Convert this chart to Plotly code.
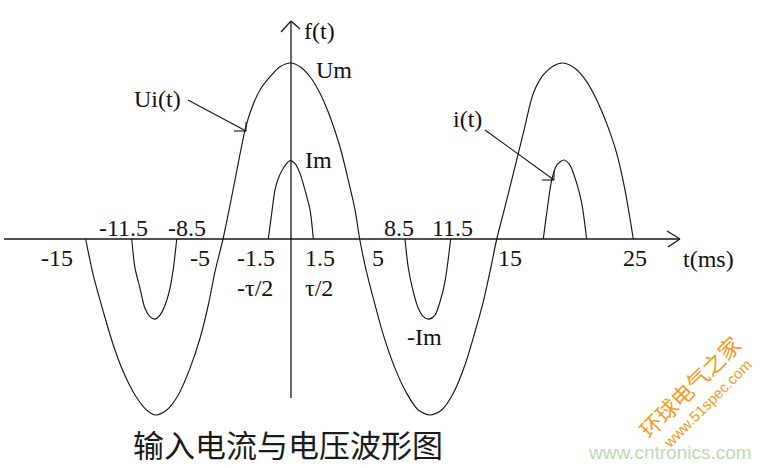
import plotly.graph_objects as go

# ---- data (t in ms, f in units of Um) ----
ui_t = [-15.1, -14.54, -13.80, -13.07, -12.33, -11.47, -10.61, -9.93, -9.14, -8.29, -7.43, -6.69, -6.08, -5.59,
        -5.0, -4.36, -3.88, -3.38, -2.89, -2.28, -1.54, -0.81, 0.0, 0.66, 1.40, 2.13, 2.87, 3.60, 4.21, 4.71,
        5.05, 5.44, 6.05, 6.79, 7.65, 8.51, 9.36, 10.22, 11.08, 11.93, 12.79, 13.53, 14.14, 14.63,
        15.13, 15.74, 16.35, 17.08, 17.82, 18.55, 19.29, 20.0, 20.88, 21.74, 22.48, 23.21, 23.95, 24.56, 25.17]
ui_f = [0.0, -0.205, -0.413, -0.602, -0.754, -0.886, -0.972, -1.0, -0.972, -0.886, -0.735, -0.564, -0.375, -0.186,
        0.0, 0.240, 0.430, 0.619, 0.743, 0.847, 0.922, 0.979, 1.0, 0.979, 0.922, 0.828, 0.695, 0.524, 0.335, 0.165,
        0.0, -0.148, -0.337, -0.545, -0.735, -0.877, -0.972, -1.0, -0.972, -0.877, -0.716, -0.527, -0.356, -0.186,
        0.0, 0.184, 0.373, 0.601, 0.828, 0.932, 0.983, 1.0, 0.970, 0.894, 0.790, 0.657, 0.487, 0.278, 0.0]

i_left_t = [-11.71, -11.47, -11.10, -10.74, -10.37, -10.0, -9.63, -9.26, -8.90, -8.65, -8.40]
i_left_f = [0.0, -0.166, -0.280, -0.394, -0.441, -0.455, -0.432, -0.375, -0.280, -0.166, 0.0]
i_mid_t = [-1.67, -1.42, -1.18, -0.93, -0.57, -0.07, 0.29, 0.66, 1.03, 1.40, 1.64]
i_mid_f = [0.0, 0.146, 0.278, 0.345, 0.402, 0.445, 0.430, 0.373, 0.278, 0.165, 0.0]
i_right_t = [8.38, 8.63, 8.99, 9.36, 9.73, 10.15, 10.59, 10.96, 11.32, 11.57, 11.74]
i_right_f = [0.0, -0.166, -0.299, -0.394, -0.441, -0.455, -0.432, -0.356, -0.243, -0.110, 0.0]
i_far_t = [18.55, 18.80, 19.17, 19.54, 20.07, 20.51, 21.01, 21.38, 21.74]
i_far_f = [0.0, 0.146, 0.335, 0.420, 0.449, 0.420, 0.316, 0.203, 0.0]

tick_labels_above = ["-11.5", "-8.5", "8.5", "11.5"]
tick_labels_below = ["-15", "-5", "-1.5", "1.5", "5", "15", "25"]
tau_labels = ["-τ/2", "τ/2"]

W, H = 772, 468
X0PX, Y0PX, SX, SY = 291, 239, 13.6, 176


def px(x):
    return x / W


def py(y):
    return 1 - y / H


LINE = dict(color="#161616", width=1.15)
fig = go.Figure()
for tt, ff in [(ui_t, ui_f), (i_left_t, i_left_f), (i_mid_t, i_mid_f), (i_right_t, i_right_f), (i_far_t, i_far_f)]:
    fig.add_trace(go.Scatter(x=tt, y=ff, mode="lines", line=dict(shape="spline", smoothing=0.8, **LINE),
                             hoverinfo="skip", showlegend=False))

shapes = []
def seg(x0, y0, x1, y1, color="#161616", w=1.3):
    shapes.append(dict(type="line", xref="paper", yref="paper", x0=px(x0), y0=py(y0), x1=px(x1), y1=py(y1),
                       line=dict(color=color, width=w)))

# axes
seg(4, 239, 680, 239)
seg(667, 231, 680, 239)
seg(668, 247, 680, 239)
seg(291, 398, 291, 21)
seg(281, 32, 291, 21)
seg(291, 21, 300, 29)
# pointer arrows
seg(188, 100, 246, 131, w=1.1)
seg(234, 131, 246, 131, w=1.1)
seg(246, 122, 246, 131, w=1.1)
seg(485, 130, 554, 180, w=1.1)
seg(542, 180, 554, 180, w=1.1)
seg(554, 171, 554, 180, w=1.1)

annotations = []
SERIF = "Liberation Serif, Times New Roman, serif"
def txt(s, x, y, size=24, font=SERIF, color="#111", angle=0):
    annotations.append(dict(text=s, xref="paper", yref="paper", x=px(x), y=py(y), xanchor="center",
                            yanchor="middle", showarrow=False, textangle=angle,
                            font=dict(family=font, size=size, color=color)))

above_pos = [(124, 228), (187, 228), (399, 228), (452, 228)]
for s, (x, y) in zip(tick_labels_above, above_pos):
    txt(s, x, y)
below_pos = [(57, 258), (200, 258), (256, 258), (320, 258), (378, 258), (510, 258), (635, 258)]
for s, (x, y) in zip(tick_labels_below, below_pos):
    txt(s, x, y)
for s, (x, y) in zip(tau_labels, [(255, 288), (319, 288)]):
    txt(s, x, y)

txt("t(ms)", 708, 259)
txt("f(t)", 319, 31)
txt("Um", 334, 70)
txt("Ui(t)", 157, 99)
txt("Im", 318, 160)
txt("i(t)", 467, 119)
txt("-Im", 425, 337)

txt("输入电流与电压波形图", 288, 443, size=31, font="Noto Sans CJK SC", color="#1a1a1a")

# watermark
txt("环球电气之家", 689, 386, size=22, font="Noto Sans CJK SC", color="#f59a23", angle=-45)
txt("www.51spec.com", 707, 403, size=15, font="Liberation Sans, Arial", color="#f59a23", angle=-45)
txt("www.cntronics.com", 670, 452, size=19, font="Liberation Sans, Arial", color="#bcdcae")

fig.update_layout(
    width=W, height=H, autosize=False,
    margin=dict(l=0, r=0, t=0, b=0),
    paper_bgcolor="white", plot_bgcolor="white",
    xaxis=dict(range=[(0 - X0PX) / SX, (W - X0PX) / SX], visible=False, fixedrange=True),
    yaxis=dict(range=[(Y0PX - H) / SY, Y0PX / SY], visible=False, fixedrange=True),
    shapes=shapes, annotations=annotations,
)
fig.write_html("out.html", config={"displayModeBar": False},
               post_script="document.body.style.margin='0';document.body.style.overflow='hidden';")
